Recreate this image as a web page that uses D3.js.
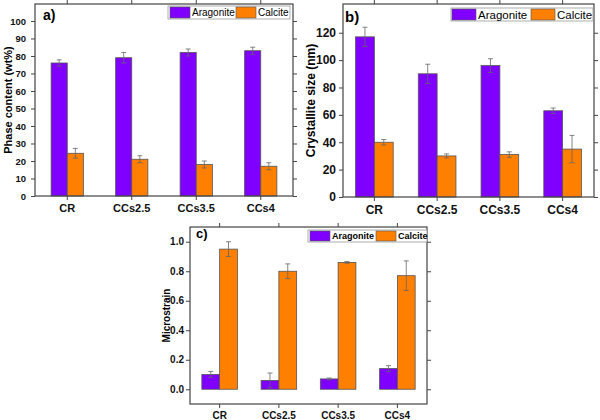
<!DOCTYPE html>
<html>
<head>
<meta charset="utf-8">
<script src="https://cdn.jsdelivr.net/npm/d3@7"></script>
<style>
	body { margin: 0; background: #fff; }
	svg { font-family: "Liberation Sans", Arial, sans-serif; }
	.axis path { display: none; }
	.axis line { stroke: #444; stroke-width: 1; }
	.axis text { fill: #111; font-weight: bold; }
</style>
</head>
<body>
<div id="fig"></div>
<script>
var samples = ["CR", "CCs2.5", "CCs3.5", "CCs4"];
var phases = ["Aragonite", "Calcite"];
var colors = ["#7f00ff", "#ff7f00"];

// a) phase content (wt%)
var phaseArag = [76, 79, 82, 83];
var phaseAragErr = [1.8, 3, 2, 2];
var phaseCalc = [24.4, 21, 18, 17];
var phaseCalcErr = [2.8, 2, 2, 2];
var phaseTicks = [0, 10, 20, 30, 40, 50, 60, 70, 80, 90, 100];

// b) crystallite size (nm)
var sizeArag = [117, 90, 96, 63];
var sizeAragErr = [7, 7, 5, 2];
var sizeCalc = [40, 30, 31, 35];
var sizeCalcErr = [2, 1.5, 2, 10];
var sizeTicks = [0, 20, 40, 60, 80, 100, 120];

// c) microstrain
var strainArag = [0.10, 0.06, 0.07, 0.14];
var strainAragErr = [0.02, 0.05, 0.006, 0.02];
var strainCalc = [0.95, 0.80, 0.86, 0.77];
var strainCalcErr = [0.05, 0.05, 0.006, 0.10];
var strainTicks = [0.0, 0.2, 0.4, 0.6, 0.8, 1.0];

var svg = d3.select("#fig").append("svg")
		.attr("width", 600)
		.attr("height", 420);

function panel(opts) {
	var g = svg.append("g")
			.attr("transform", `translate(${opts.left}, ${opts.top})`);
	var w = opts.width, h = opts.height;

	var x = d3.scaleBand().domain(samples).range([0, w]);
	var y = d3.scaleLinear().domain(opts.ylim).range([h, 0]);

	var rows = samples.map((s, i) => ({
		s: s,
		vals: [
			{k: 0, v: opts.arag[i], e: opts.aragErr[i]},
			{k: 1, v: opts.calc[i], e: opts.calcErr[i]}
		]
	}));
	var bw = x.bandwidth() * opts.barFrac;

	var grp = g.selectAll(".grp")
			.data(rows)
		.enter().append("g")
			.attr("class", "grp")
			.attr("transform", d => `translate(${x(d.s) + x.bandwidth() / 2}, 0)`);

	grp.selectAll("rect")
			.data(d => d.vals)
		.enter().append("rect")
			.attr("x", d => d.k === 0 ? -bw : 0)
			.attr("width", bw)
			.attr("y", d => y(d.v))
			.attr("height", d => y(0) - y(d.v))
			.attr("fill", d => colors[d.k])
			.attr("stroke", "#555")
			.attr("stroke-width", 0.8);

	var err = grp.selectAll(".err")
			.data(d => d.vals)
		.enter().append("g")
			.attr("class", "err")
			.attr("stroke", "#666")
			.attr("stroke-width", 0.8)
			.attr("transform", d => `translate(${d.k === 0 ? -bw / 2 : bw / 2}, 0)`);
	err.append("line")
			.attr("y1", d => y(d.v - d.e))
			.attr("y2", d => y(d.v + d.e));
	err.append("line")
			.attr("x1", -2.5).attr("x2", 2.5)
			.attr("y1", d => y(d.v - d.e))
			.attr("y2", d => y(d.v - d.e));
	err.append("line")
			.attr("x1", -2.5).attr("x2", 2.5)
			.attr("y1", d => y(d.v + d.e))
			.attr("y2", d => y(d.v + d.e));

	g.append("g")
			.attr("class", "axis")
			.attr("transform", `translate(0, ${h})`)
			.style("font-size", opts.catSize + "px")
			.call(d3.axisBottom(x).tickSize(4).tickPadding(4));
	g.append("g")
			.attr("class", "axis")
			.call(d3.axisTop(x).tickSize(4).tickFormat(""));
	g.append("g")
			.attr("class", "axis")
			.style("font-size", opts.tickSize + "px")
			.call(d3.axisLeft(y).tickValues(opts.ticks).tickSize(4).tickPadding(opts.tickPad)
				.tickFormat(opts.fmt || d3.format("d")));
	g.append("g")
			.attr("class", "axis")
			.attr("transform", `translate(${w}, 0)`)
			.call(d3.axisRight(y).tickValues(opts.ticks).tickSize(4).tickFormat(""));

	g.append("rect")
			.attr("width", w)
			.attr("height", h)
			.attr("fill", "none")
			.attr("stroke", "#444")
			.attr("stroke-width", 1.2);

	g.append("text")
			.attr("transform", `translate(${opts.ylabX}, ${h / 2}) rotate(-90)`)
			.attr("text-anchor", "middle")
			.attr("font-weight", "bold")
			.attr("font-size", opts.ylabSize)
			.text(opts.ylab);

	g.append("text")
			.attr("x", opts.tagX)
			.attr("y", opts.tagY)
			.attr("font-weight", "bold")
			.attr("font-size", opts.tagSize)
			.text(opts.tag);

	// legend
	var L = opts.legend;
	var lg = g.append("g")
			.attr("transform", `translate(${L.x}, ${L.y})`);
	lg.append("rect")
			.attr("x", -1).attr("y", -1)
			.attr("width", L.w + 2).attr("height", L.h + 2)
			.attr("fill", "#fff")
			.attr("stroke", "#999")
			.attr("stroke-width", 0.8);
	phases.forEach((p, i) => {
		var ox = L.offsets[i];
		lg.append("rect")
				.attr("x", ox).attr("y", 0)
				.attr("width", L.sw).attr("height", L.h)
				.attr("fill", colors[i])
				.attr("stroke", "#555")
				.attr("stroke-width", 0.6);
		lg.append("text")
				.attr("x", ox + L.sw + 2)
				.attr("y", L.h / 2)
				.attr("dy", "0.35em")
				.attr("font-size", L.size)
				.attr("font-weight", L.weight)
				.text(p);
	});
}

panel({
	left: 35, top: 4, width: 258, height: 192,
	ylim: [0, 109.7], ticks: phaseTicks,
	arag: phaseArag, aragErr: phaseAragErr, calc: phaseCalc, calcErr: phaseCalcErr,
	barFrac: 0.25, tickSize: 9.5, tickPad: 5, catSize: 11,
	ylab: "Phase content (wt%)", ylabX: -23, ylabSize: 11,
	tag: "a)", tagX: 8, tagY: 16, tagSize: 14,
	legend: {x: 134, y: 3, w: 120, h: 11, sw: 20, offsets: [1, 67], size: 10, weight: "normal"}
});

panel({
	left: 343, top: 4, width: 251, height: 193,
	ylim: [0, 141], ticks: sizeTicks,
	arag: sizeArag, aragErr: sizeAragErr, calc: sizeCalc, calcErr: sizeCalcErr,
	barFrac: 0.3, tickSize: 12, tickPad: 3, catSize: 12,
	ylab: "Crystallite size (nm)", ylabX: -28, ylabSize: 12,
	tag: "b)", tagX: 2, tagY: 18, tagSize: 15,
	legend: {x: 109, y: 5, w: 140, h: 11, sw: 24, offsets: [0, 79], size: 11.5, weight: "normal"}
});

panel({
	left: 190, top: 227, width: 237, height: 177,
	ylim: [-0.1, 1.1], ticks: strainTicks, fmt: d3.format(".1f"),
	arag: strainArag, aragErr: strainAragErr, calc: strainCalc, calcErr: strainCalcErr,
	barFrac: 0.3, tickSize: 10, tickPad: 2, catSize: 10,
	ylab: "Microstrain", ylabX: -20, ylabSize: 10,
	tag: "c)", tagX: 6, tagY: 11, tagSize: 13,
	legend: {x: 119, y: 4, w: 117, h: 10, sw: 20, offsets: [1, 67], size: 9, weight: "bold"}
});
</script>
</body>
</html>
